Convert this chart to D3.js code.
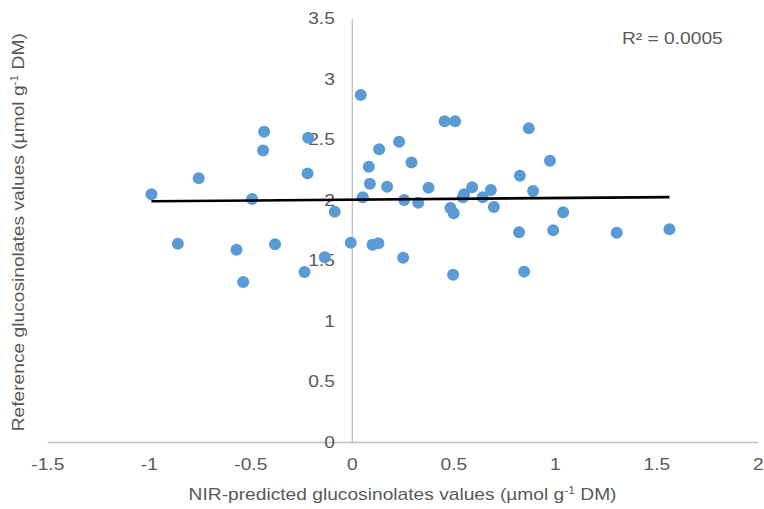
<!DOCTYPE html>
<html>
<head>
<meta charset="utf-8">
<script src="https://cdn.jsdelivr.net/npm/d3@7/dist/d3.min.js"></script>
<style>
  html, body { margin: 0; padding: 0; background: #fff; }
  svg { display: block; }
  text { font-family: "Liberation Sans", Arial, sans-serif; fill: #595959; }
</style>
</head>
<body>
<svg id="chart" width="764" height="509"></svg>
<script>
// NIR-predicted values (x) against reference values (y), µmol g-1 DM
const predicted = [
  -0.987, -0.754, -0.432, -0.437, -0.215, -0.218, -0.491, -0.084, -0.857, -0.568,
  -0.378, -0.005, -0.133, -0.233, -0.535, 0.044, 0.084, 0.089, 0.135, 0.233,
  0.294, 0.054, 0.174, 0.258, 0.327, 0.378, 0.102, 0.131, 0.253, 0.457,
  0.509, 0.486, 0.502, 0.547, 0.553, 0.593, 0.645, 0.685, 0.700, 0.499,
  0.872, 0.828, 0.893, 0.824, 0.849, 0.976, 1.041, 0.992, 1.305, 1.565
];
const reference = [
  2.047, 2.180, 2.565, 2.410, 2.515, 2.220, 2.008, 1.903, 1.639, 1.589,
  1.634, 1.647, 1.526, 1.405, 1.322, 2.868, 2.275, 2.135, 2.419, 2.482,
  2.309, 2.022, 2.110, 2.000, 1.978, 2.102, 1.631, 1.642, 1.523, 2.650,
  2.650, 1.934, 1.890, 2.022, 2.047, 2.105, 2.022, 2.083, 1.942, 1.383,
  2.592, 2.201, 2.074, 1.733, 1.408, 2.325, 1.898, 1.750, 1.730, 1.758
];
const xTicks = [-1.5, -1, -0.5, 0, 0.5, 1, 1.5, 2];
const yTicks = [0, 0.5, 1, 1.5, 2, 2.5, 3, 3.5];
const rSquared = "0.0005";

const points = predicted.map((v, i) => ({ x: v, y: reference[i] }));

const svg = d3.select("#chart");
const x = d3.scaleLinear().domain([-1.5, 2]).range([47.3, 757.8]);
const y = d3.scaleLinear().domain([0, 3.5]).range([442, 18.5]);

const axisColor = "#bfbfbf";
const textColor = "#595959";
const fontSize = 16;
const stretch = 1.2;   // wide-set lettering
const fmt = d => String(d);

// horizontal axis at y = 0
const gx = svg.append("g")
  .attr("transform", `translate(0,${y(0)})`)
  .call(d3.axisBottom(x).tickValues(xTicks).tickFormat(fmt).tickSize(0).tickPadding(17));
gx.select(".domain").attr("stroke", axisColor).attr("stroke-width", 1.3);
gx.selectAll("text")
  .attr("font-size", fontSize).style("fill", textColor)
  .attr("font-family", "Liberation Sans, Arial, sans-serif")
  .attr("transform", `scale(${stretch},1)`);

// vertical axis at x = 0
const pad = 17;
const gy = svg.append("g")
  .attr("transform", `translate(${x(0)},0)`)
  .call(d3.axisLeft(y).tickValues(yTicks).tickFormat(fmt).tickSize(0).tickPadding(pad));
gy.select(".domain").attr("stroke", axisColor).attr("stroke-width", 1.3);
gy.selectAll("text")
  .attr("font-size", fontSize).style("fill", textColor)
  .attr("font-family", "Liberation Sans, Arial, sans-serif")
  .attr("x", -pad / stretch)
  .attr("transform", `scale(${stretch},1)`);

// scatter points
svg.append("g").selectAll("circle")
  .data(points)
  .join("circle")
  .attr("cx", d => x(d.x))
  .attr("cy", d => y(d.y))
  .attr("r", 6)
  .attr("fill", "#5b9bd5");

// least-squares linear trendline over the range of the predictions
const mx = d3.mean(points, d => d.x), my = d3.mean(points, d => d.y);
const sxy = d3.sum(points, d => (d.x - mx) * (d.y - my));
const sxx = d3.sum(points, d => (d.x - mx) ** 2);
const slope = sxy / sxx, intercept = my - slope * mx;
const [xMin, xMax] = d3.extent(points, d => d.x);
svg.append("line")
  .attr("x1", x(xMin)).attr("y1", y(intercept + slope * xMin))
  .attr("x2", x(xMax)).attr("y2", y(intercept + slope * xMax))
  .attr("stroke", "#000").attr("stroke-width", 2.6);

// R² annotation
svg.append("text")
  .attr("transform", `translate(622,44) scale(${stretch},1)`)
  .attr("font-size", fontSize)
  .text(`R² = ${rSquared}`);

// axis titles
const xt = svg.append("text")
  .attr("transform", `translate(${(x(-1.5) + x(2)) / 2},500) scale(${stretch},1)`)
  .attr("text-anchor", "middle").attr("font-size", fontSize);
xt.append("tspan").text("NIR-predicted glucosinolates values (µmol g");
xt.append("tspan").attr("font-size", 10).attr("dy", -6).text("-1");
xt.append("tspan").attr("dy", 6).text(" DM)");

const yt = svg.append("text")
  .attr("transform", `translate(24,${(y(0) + y(3.5)) / 2 + 2}) rotate(-90) scale(${stretch},1)`)
  .attr("text-anchor", "middle").attr("font-size", fontSize);
yt.append("tspan").text("Reference glucosinolates values (µmol g");
yt.append("tspan").attr("font-size", 10).attr("dy", -6).text("-1");
yt.append("tspan").attr("dy", 6).text(" DM)");
</script>
</body>
</html>
